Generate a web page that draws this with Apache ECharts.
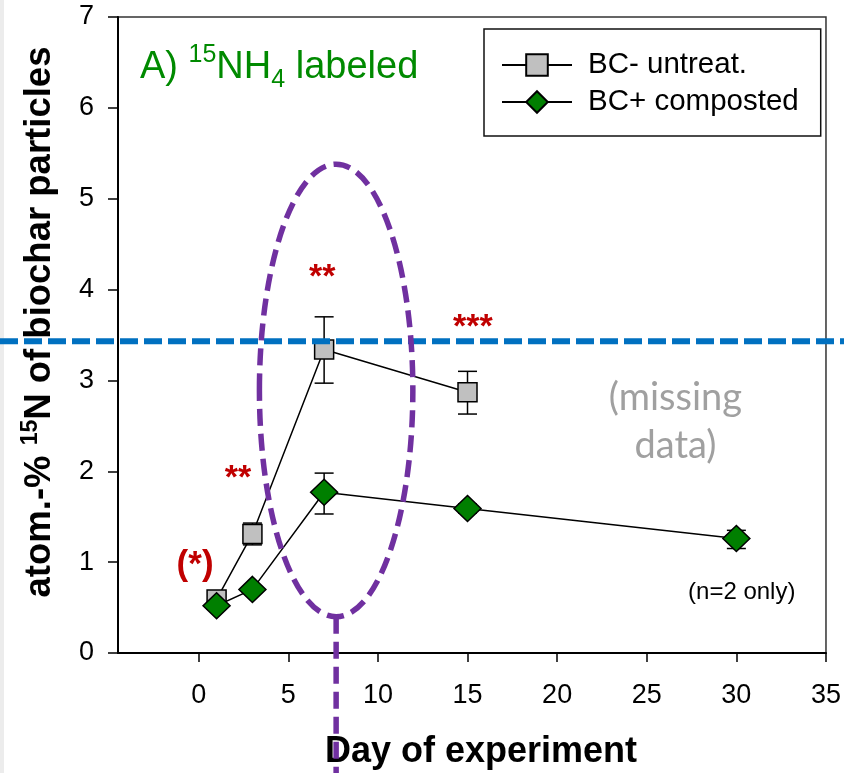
<!DOCTYPE html>
<html>
<head>
<meta charset="utf-8">
<title>15N in biochar particles</title>
<script src="https://cdn.jsdelivr.net/npm/echarts@6/dist/echarts.min.js"></script>
<style>
  html, body { margin: 0; padding: 0; background: #fff; }
  #chart { width: 844px; height: 773px; }
</style>
</head>
<body>
<div id="chart"></div>
<script>
// ---- measured values ----
const untreatDays = [1, 3, 7, 15];
const untreatMean = [0.59, 1.31, 3.34, 2.87];
const untreatLow  = [0.54, 1.19, 2.97, 2.63];
const untreatHigh = [0.64, 1.43, 3.70, 3.10];

const compostDays = [1, 3, 7, 15, 30];
const compostMean = [0.52, 0.70, 1.77, 1.59, 1.26];
const compostLow  = [0.48, 0.66, 1.53, 1.54, 1.15];
const compostHigh = [0.56, 0.74, 1.98, 1.64, 1.35];

const xTicks = [0, 5, 10, 15, 20, 25, 30, 35];
const seriesNames = ['BC- untreat.', 'BC+ composted'];

// reference level (blue dashed) and highlighted region (purple ellipse), in data units
const referenceLevel = 3.43;
const regionCenter = [7.67, 2.89];
const regionHalfSize = [4.28, 2.49];

// significance marks, placed in data units
const notes = [
  { text: '(*)', at: [-0.2, 0.96], size: 35 },
  { text: '**', at: [2.2, 1.92], size: 34 },
  { text: '**', at: [6.9, 4.13], size: 34 },
  { text: '***', at: [15.3, 3.58], size: 34 }
];

const FONT = "'Liberation Sans', Arial, sans-serif";
const chart = echarts.init(document.getElementById('chart'), null, { renderer: 'canvas' });

function toPoints(xs, ys) { return xs.map((d, i) => [d, ys[i]]); }
function toBars(xs, lo, hi) { return xs.map((d, i) => [d, lo[i], hi[i]]); }

function errorBars(params, api) {
  const lo = api.coord([api.value(0), api.value(1)]);
  const hi = api.coord([api.value(0), api.value(2)]);
  const hw = 9.5;
  const style = { stroke: '#000', lineWidth: 1.5 };
  return {
    type: 'group',
    children: [
      { type: 'line', shape: { x1: lo[0], y1: lo[1], x2: hi[0], y2: hi[1] }, style },
      { type: 'line', shape: { x1: hi[0] - hw, y1: hi[1], x2: hi[0] + hw, y2: hi[1] }, style },
      { type: 'line', shape: { x1: lo[0] - hw, y1: lo[1], x2: lo[0] + hw, y2: lo[1] }, style }
    ]
  };
}

chart.setOption({
  animation: false,
  backgroundColor: '#fff',
  grid: {
    left: 118, top: 17, right: 15, bottom: 120,
    show: true, borderColor: '#333', borderWidth: 1.5, backgroundColor: 'transparent'
  },
  legend: {
    data: seriesNames,
    orient: 'vertical',
    left: 484, top: 29,
    padding: [21, 22, 19, 17],
    itemGap: 7,
    itemWidth: 70, itemHeight: 27,
    backgroundColor: '#fff',
    borderColor: '#111', borderWidth: 1.5,
    selectedMode: false,
    textStyle: { fontFamily: FONT, fontSize: 29.5, color: '#000', lineHeight: 30, padding: [0, 0, 0, 11] }
  },
  xAxis: {
    type: 'value', min: -4.5, max: 35,
    axisLine: { show: true, onZero: false, lineStyle: { color: '#000', width: 2 } },
    axisTick: { show: true, customValues: xTicks, length: 9, lineStyle: { color: '#000', width: 1.5 } },
    axisLabel: { customValues: xTicks, margin: 29, fontSize: 27, color: '#000', fontFamily: FONT, showMaxLabel: true },
    splitLine: { show: false }
  },
  yAxis: {
    type: 'value', min: 0, max: 7, interval: 1,
    axisLine: { show: true, onZero: false, lineStyle: { color: '#000', width: 2 } },
    axisTick: { show: true, length: 10, lineStyle: { color: '#000', width: 1.5 } },
    axisLabel: { margin: 24, fontSize: 27, color: '#000', fontFamily: FONT },
    splitLine: { show: false }
  },
  series: [
    {
      name: 'errUntreat', type: 'custom', silent: true, z: 2,
      data: toBars(untreatDays, untreatLow, untreatHigh),
      encode: { x: 0, y: [1, 2] },
      renderItem: errorBars
    },
    {
      name: 'errCompost', type: 'custom', silent: true, z: 2,
      data: toBars(compostDays, compostLow, compostHigh),
      encode: { x: 0, y: [1, 2] },
      renderItem: errorBars
    },
    {
      name: seriesNames[0], type: 'line', z: 3,
      data: toPoints(untreatDays, untreatMean),
      symbol: 'rect', symbolSize: 19,
      itemStyle: { color: '#c0c0c0', borderColor: '#000', borderWidth: 1.5 },
      lineStyle: { color: '#000', width: 1.5 },
      emphasis: { disabled: true }
    },
    {
      name: seriesNames[1], type: 'line', z: 4,
      data: toPoints(compostDays, compostMean),
      symbol: 'diamond', symbolSize: [27, 26],
      itemStyle: { color: '#007f00', borderColor: '#000', borderWidth: 1.5 },
      lineStyle: { color: '#000', width: 1.5 },
      emphasis: { disabled: true }
    }
  ]
});

// ---- annotations positioned through the axes ----
function px(x, y) { return chart.convertToPixel({ gridIndex: 0 }, [x, y]); }

const W = chart.getWidth(), H = chart.getHeight();
const refY = px(0, referenceLevel)[1];
const c = px(regionCenter[0], regionCenter[1]);
const corner = px(regionCenter[0] + regionHalfSize[0], regionCenter[1] + regionHalfSize[1]);
const rx = corner[0] - c[0], ry = c[1] - corner[1];

const noteGraphics = notes.map(n => {
  const p = px(n.at[0], n.at[1]);
  return {
    type: 'text', x: p[0], y: p[1], z: 60,
    style: {
      text: n.text, align: 'center', verticalAlign: 'middle',
      font: 'bold ' + n.size + 'px ' + FONT, fill: '#c00000'
    }
  };
});

const missingAt = px(26.6, 2.55);
const nAt = px(30.3, 0.67);

chart.setOption({
  graphic: [
    // light margin on the left edge
    { type: 'rect', shape: { x: 0, y: 0, width: 4, height: H }, style: { fill: '#ececec' }, z: 1 },
    // panel title
    {
      type: 'text', x: 140, y: 68, z: 60,
      style: {
        text: '{m|A) }{s|15}{m|NH}{b|4}{m| labeled}',
        fill: '#008a00',
        rich: {
          m: { fontFamily: FONT, fontSize: 38, lineHeight: 50, verticalAlign: 'middle', fill: '#008a00' },
          s: { fontFamily: FONT, fontSize: 25, lineHeight: 38, verticalAlign: 'top', fill: '#008a00' },
          b: { fontFamily: FONT, fontSize: 25, lineHeight: 30, verticalAlign: 'bottom', fill: '#008a00' }
        },
        verticalAlign: 'middle'
      }
    },
    // axis titles
    {
      type: 'text', x: 481, y: 752, z: 40,
      style: { text: 'Day of experiment', align: 'center', verticalAlign: 'middle', font: 'bold 36px ' + FONT, fill: '#000' }
    },
    {
      type: 'text', x: 40, y: 322, rotation: Math.PI / 2, z: 40,
      style: {
        text: '{m|atom.-% }{s|15}{m|N of biochar particles}',
        align: 'center', verticalAlign: 'middle',
        rich: {
          m: { fontFamily: FONT, fontWeight: 'bold', fontSize: 36.5, lineHeight: 42, verticalAlign: 'middle', fill: '#000' },
          s: { fontFamily: FONT, fontWeight: 'bold', fontSize: 23, lineHeight: 30, verticalAlign: 'top', fill: '#000' }
        }
      }
    },
    // notes
    {
      type: 'text', x: missingAt[0], y: missingAt[1], z: 60,
      style: { text: '(missing\ndata)', align: 'center', verticalAlign: 'middle', font: '38px Lato, "Open Sans", sans-serif', lineHeight: 48, fill: '#a0a0a0' }
    },
    {
      type: 'text', x: nAt[0], y: nAt[1], z: 60,
      style: { text: '(n=2 only)', align: 'center', verticalAlign: 'middle', font: '24px ' + FONT, fill: '#000' }
    },
    ...noteGraphics,
    // reference level across the whole figure
    {
      type: 'line', z: 80,
      shape: { x1: 0, y1: refY, x2: W, y2: refY },
      style: { stroke: '#0070c0', lineWidth: 6, lineDash: [18, 6] }
    },
    // highlighted region and its pointer
    {
      type: 'ellipse', z: 90,
      shape: { cx: c[0], cy: c[1], rx: rx, ry: ry },
      style: { fill: 'none', stroke: '#7030a0', lineWidth: 5.5, lineDash: [17, 8] }
    },
    {
      type: 'line', z: 90,
      shape: { x1: c[0], y1: c[1] + ry, x2: c[0], y2: H },
      style: { stroke: '#7030a0', lineWidth: 5.5, lineDash: [17, 8] }
    }
  ]
});
</script>
</body>
</html>
